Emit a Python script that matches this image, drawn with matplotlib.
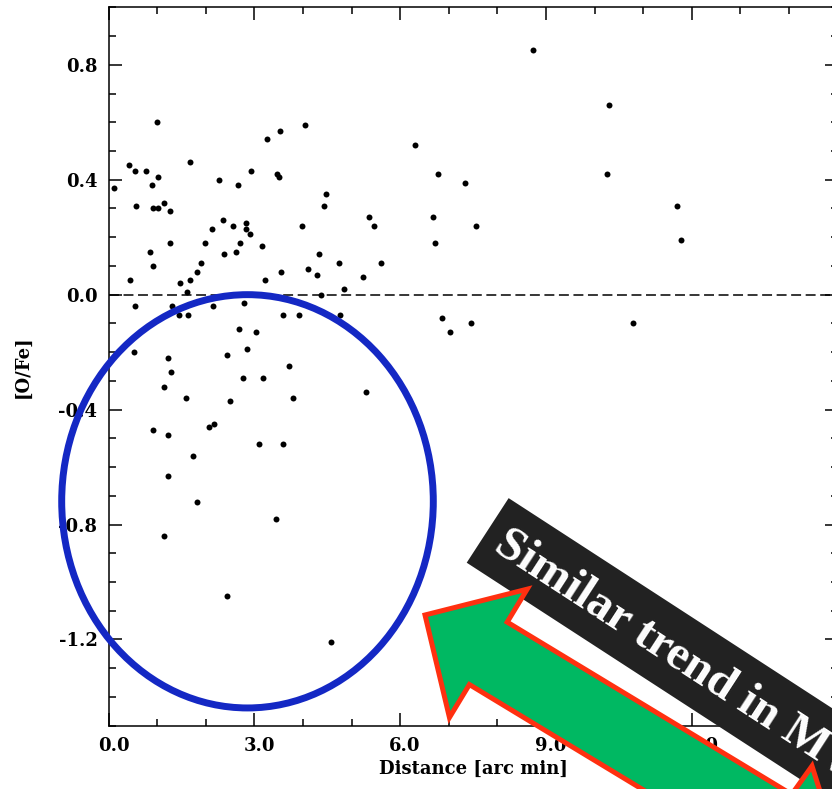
import numpy as np
import matplotlib
matplotlib.use("Agg")
import matplotlib.pyplot as plt
from matplotlib.patches import Ellipse, FancyArrow, Rectangle
from matplotlib.transforms import IdentityTransform, ScaledTranslation
from matplotlib.ticker import MultipleLocator, FormatStrFormatter

# 数据：距离 [arc min] 与 [O/Fe]
dist = [0.12, 0.43, 0.54, 0.78, 1.00, 1.02, 0.89, 0.57, 0.92, 1.02,
        1.14, 1.27, 1.68, 0.85, 1.27, 0.92, 0.44, 1.47, 1.68, 1.62,
        1.82, 1.91, 1.98, 2.12, 2.27, 2.36, 2.38, 2.56, 2.62, 2.66,
        2.82, 2.83, 2.91, 2.71, 2.93, 3.15, 3.26, 3.52, 3.47, 3.51,
        3.21, 3.54, 4.05, 3.98, 4.11, 4.30, 4.34, 4.43, 4.48, 4.38,
        4.74, 4.84, 5.24, 5.35, 5.46, 5.61, 6.30,
        0.55, 1.31, 1.46, 1.64, 2.16, 2.79, 3.60, 3.93, 4.77, 2.69,
        3.04, 2.84, 2.44, 0.52, 1.22, 1.29, 3.72, 1.15, 2.76, 3.18,
        1.59, 2.49, 3.80, 5.30, 0.92, 1.23, 2.07, 2.18, 3.09, 3.60,
        1.74, 1.23, 1.83, 3.44, 1.14, 2.44, 4.58,
        8.73, 10.30, 10.26, 6.79, 7.33, 6.67, 7.56, 6.72, 11.69, 11.77,
        6.86, 7.03, 7.45, 10.80]
ofe = [0.37, 0.45, 0.43, 0.43, 0.60, 0.41, 0.38, 0.31, 0.30, 0.30,
       0.32, 0.29, 0.46, 0.15, 0.18, 0.10, 0.05, 0.04, 0.05, 0.01,
       0.08, 0.11, 0.18, 0.23, 0.40, 0.26, 0.14, 0.24, 0.15, 0.38,
       0.25, 0.23, 0.21, 0.18, 0.43, 0.17, 0.54, 0.57, 0.42, 0.41,
       0.05, 0.08, 0.59, 0.24, 0.09, 0.07, 0.14, 0.31, 0.35, 0.00,
       0.11, 0.02, 0.06, 0.27, 0.24, 0.11, 0.52,
       -0.04, -0.04, -0.07, -0.07, -0.04, -0.03, -0.07, -0.07, -0.07, -0.12,
       -0.13, -0.19, -0.21, -0.20, -0.22, -0.27, -0.25, -0.32, -0.29, -0.29,
       -0.36, -0.37, -0.36, -0.34, -0.47, -0.49, -0.46, -0.45, -0.52, -0.52,
       -0.56, -0.63, -0.72, -0.78, -0.84, -1.05, -1.21,
       0.85, 0.66, 0.42, 0.42, 0.39, 0.27, 0.24, 0.18, 0.31, 0.19,
       -0.08, -0.13, -0.10, -0.10]

W, H = 832, 789
fig = plt.figure(figsize=(W / 100, H / 100), dpi=100)
ax = fig.add_axes([108.5 / W, (H - 725.7) / H, 729 / W, (725.7 - 7.3) / H])

ax.plot(dist, ofe, 'o', color='black', markersize=4.3, markeredgewidth=0)
ax.axhline(0.0, color='black', lw=1.1, linestyle=(0, (6.5, 3)))

ax.set_xlim(0, 15)
ax.set_ylim(-1.5, 1.0)
ax.xaxis.set_major_locator(MultipleLocator(3))
ax.xaxis.set_minor_locator(MultipleLocator(1))
ax.yaxis.set_major_locator(MultipleLocator(0.4))
ax.yaxis.set_minor_locator(MultipleLocator(0.1))
ax.xaxis.set_major_formatter(FormatStrFormatter('%.1f'))
ax.yaxis.set_major_formatter(FormatStrFormatter('%.1f'))
ax.tick_params(which='both', direction='in', top=True, right=True, width=1.1)
ax.tick_params(which='major', length=9.5, pad=8)
ax.tick_params(which='minor', length=5)
shift = ScaledTranslation(5 / 100, 0, fig.dpi_scale_trans)
for lab in ax.get_xticklabels():
    lab.set_transform(lab.get_transform() + shift)
for lab in ax.get_xticklabels() + ax.get_yticklabels():
    lab.set_fontfamily('DejaVu Serif')
    lab.set_fontweight('bold')
    lab.set_fontsize(13)
for sp in ax.spines.values():
    sp.set_linewidth(1.1)
ax.set_xlabel('Distance [arc min]', family='DejaVu Serif', weight='bold', fontsize=13, labelpad=4)
ax.set_ylabel('[O/Fe]', family='DejaVu Serif', weight='bold', fontsize=13, labelpad=19)

# 注释图形（像素坐标，原点在左下角）
px = IdentityTransform()

# 蓝色椭圆
fig.patches.append(Ellipse((247.5, H - 501.3), 371.6, 413.3, fill=False,
                           edgecolor='#1428c4', lw=5, transform=px, figure=fig))

# 黑色条幅
ang = -33
fig.patches.append(Rectangle((466.7, H - 562.7), 650, 77, angle=ang,
                             facecolor='#222222', edgecolor='none', transform=px, figure=fig))
fig.text(499, H - 540, 'Similar trend in MW', color='white', family='Liberation Serif',
         weight='bold', fontsize=35, rotation=ang, rotation_mode='anchor',
         ha='left', va='center', transform=px)

# 绿色箭头
tip = np.array([425.0, H - 615.0])
a = np.deg2rad(31.2)
d = np.array([-np.cos(a), np.sin(a)])
L = 760
start = tip - L * d
fig.patches.append(FancyArrow(start[0], start[1], L * d[0], L * d[1], width=73,
                              head_width=150, head_length=74, length_includes_head=True,
                              facecolor='#00b862', edgecolor='#ff3010', lw=3.6,
                              joinstyle='miter', transform=px, figure=fig))

# 右下角的第二个箭头
tip2 = np.array([812.0, H - 766.0])
a2 = np.deg2rad(81)
d2 = np.array([np.cos(a2), np.sin(a2)])
L2 = 200
start2 = tip2 - L2 * d2
fig.patches.append(FancyArrow(start2[0], start2[1], L2 * d2[0], L2 * d2[1], width=30,
                              head_width=60, head_length=60, length_includes_head=True,
                              facecolor='#00b862', edgecolor='#ff3010', lw=3.6,
                              joinstyle='miter', transform=px, figure=fig))

fig.savefig('out.png', dpi=100)
